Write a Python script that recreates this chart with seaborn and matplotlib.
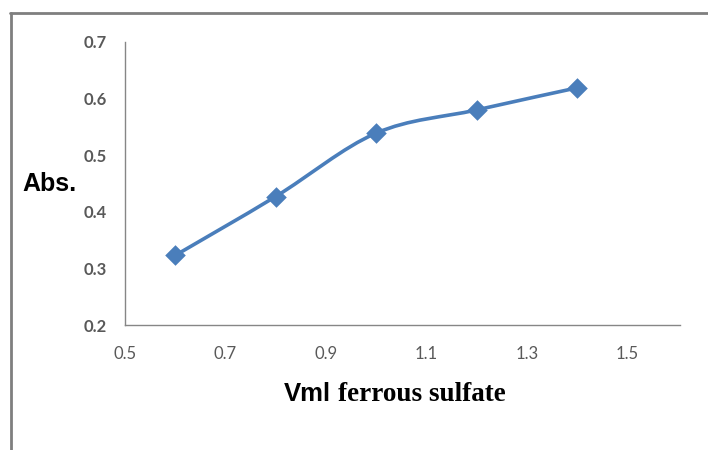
import numpy as np
import matplotlib
matplotlib.use("Agg")
import matplotlib.pyplot as plt
from matplotlib.path import Path
from matplotlib.patches import PathPatch
from matplotlib.lines import Line2D
import seaborn as sns
import pandas as pd

# dane z wykresu
v_ml = [0.6, 0.8, 1.0, 1.2, 1.4]
absorb = [0.323, 0.427, 0.539, 0.580, 0.619]
x_ticks = [0.5, 0.7, 0.9, 1.1, 1.3, 1.5]
y_ticks = [0.2, 0.3, 0.4, 0.5, 0.6, 0.7]

sns.set_style('white')
plt.rcParams['font.family'] = ['Lato', 'DejaVu Sans']

niebieski = '#4A7EBB'
szary = '#868686'

dane = pd.DataFrame({'V': v_ml, 'Abs': absorb})

fig = plt.figure(figsize=(7.08, 4.5), dpi=100)
ax = fig.add_axes([125/708, 1 - 325/450, (680 - 125)/708, (325 - 42)/450])

# wygladzona linia (jak w Excelu) - krzywe Beziera przez punkty
pts = np.column_stack([dane['V'], dane['Abs']])
verts = [pts[0]]
codes = [Path.MOVETO]
n = len(pts)
for i in range(n - 1):
    p0 = pts[i - 1] if i > 0 else pts[i]
    p1 = pts[i]
    p2 = pts[i + 1]
    p3 = pts[i + 2] if i + 2 < n else pts[i + 1]
    c1 = p1 + (p2 - p0) / 6
    c2 = p2 - (p3 - p1) / 6
    verts += [c1, c2, p2]
    codes += [Path.CURVE4] * 3
ax.add_patch(PathPatch(Path(verts, codes), facecolor='none',
                       edgecolor=niebieski, lw=2.6, zorder=2))

sns.scatterplot(data=dane, x='V', y='Abs', marker='D', s=110,
                color=niebieski, edgecolor=niebieski, linewidth=0,
                ax=ax, zorder=3)

ax.set_xlim(0.5, 1.605)
ax.set_ylim(0.2, 0.7)
ax.set_xticks(x_ticks)
ax.set_yticks(y_ticks)
ax.set_xticklabels([f'{t:.1f}' for t in x_ticks])
ax.set_yticklabels([f'{t:.1f}' for t in y_ticks], fontweight='bold')
ax.set_xlabel('')
ax.set_ylabel('')

for s in ['top', 'right']:
    ax.spines[s].set_visible(False)
for s in ['left', 'bottom']:
    ax.spines[s].set_color(szary)
    ax.spines[s].set_linewidth(1.0)
ax.tick_params(axis='both', direction='out', length=5, width=1,
               color=szary, labelcolor='#595959', labelsize=12)
ax.tick_params(axis='y', pad=8)
ax.tick_params(axis='x', pad=10)

# opisy osi
fig.text(22/708, 1 - 184/450, 'Abs.', fontsize=18, fontweight='bold',
         family=['Liberation Sans', 'DejaVu Sans'], color='black',
         ha='left', va='center')
fig.text(331/708, 1 - 401/450, 'Vml', fontsize=18.5, fontweight='bold',
         family=['Liberation Sans', 'DejaVu Sans'], color='black',
         ha='right', va='baseline')
fig.text(338/708, 1 - 401/450, 'ferrous sulfate', fontsize=19.5,
         fontweight='bold', family=['Liberation Serif', 'DejaVu Serif'],
         color='black', ha='left', va='baseline')

# ramka
fig.add_artist(Line2D([10.5/708, 10.5/708], [0, 1 - 13/450],
                      transform=fig.transFigure, color='#7f7f7f', lw=2))
fig.add_artist(Line2D([10/708, 1], [1 - 13/450, 1 - 13/450],
                      transform=fig.transFigure, color='#7f7f7f', lw=2))

fig.savefig('out.png', dpi=100)
